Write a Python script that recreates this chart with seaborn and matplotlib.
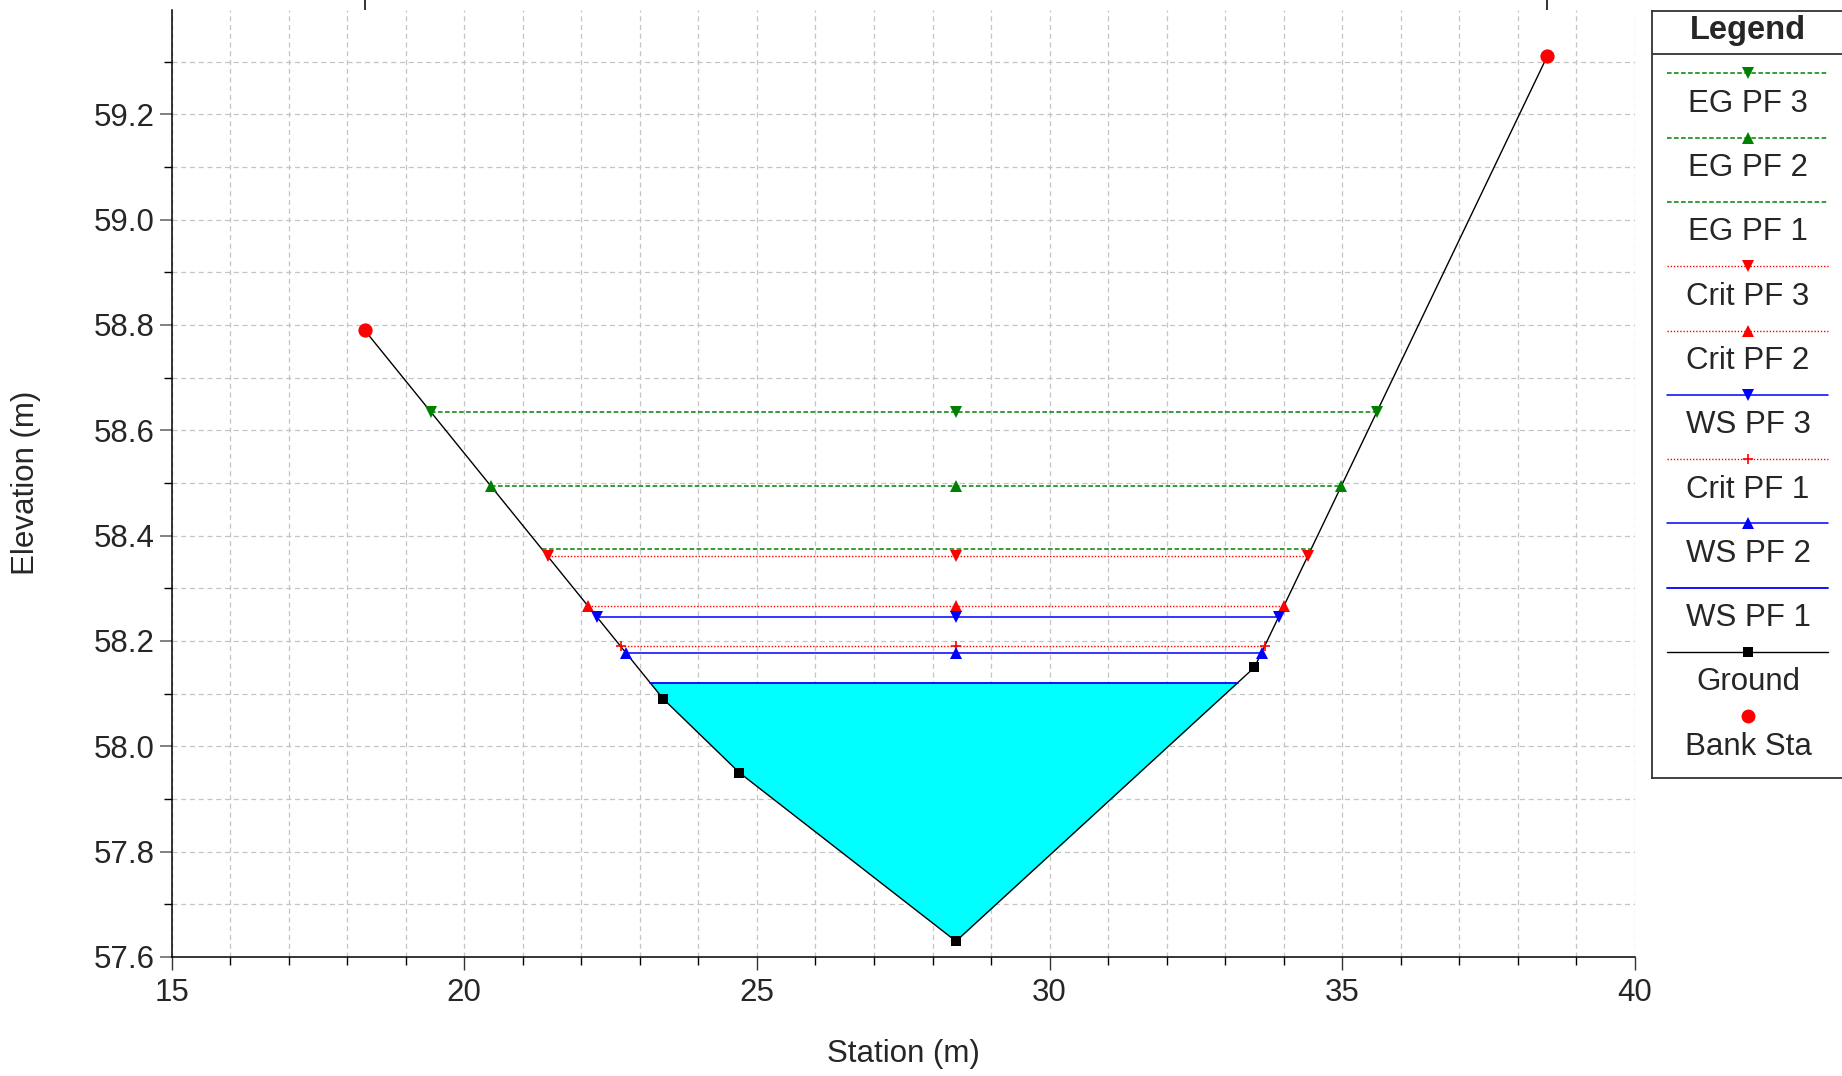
import numpy as np
import matplotlib
matplotlib.use("Agg")
import matplotlib.pyplot as plt
import matplotlib.transforms as mtransforms
from matplotlib.ticker import MultipleLocator, FormatStrFormatter
import seaborn as sns

# ---------------- data ----------------
ground_sta = [18.3, 23.4, 24.7, 28.4, 33.5, 38.5]
ground_elev = [58.79, 58.09, 57.95, 57.63, 58.15, 59.31]
bank_sta = [18.3, 38.5]
bank_elev = [58.79, 59.31]
mid_sta = 28.4

series_labels = ["EG PF 3", "EG PF 2", "EG PF 1", "Crit PF 3", "Crit PF 2",
                 "WS PF 3", "Crit PF 1", "WS PF 2", "WS PF 1"]
series_levels = [58.635, 58.494, 58.374, 58.361, 58.266,
                 58.246, 58.190, 58.178, 58.121]

# ---------------- styles ----------------
GREEN, RED, BLUE = "#008000", "#ff0000", "#0000ff"
eg_ls = (0, (3, 1.6))
crit_ls = (0, (1, 1.3))
TRI = 9
styles = {
    "EG PF 3": dict(color=GREEN, ls=eg_ls, lw=1.1, marker="v", ms=TRI),
    "EG PF 2": dict(color=GREEN, ls=eg_ls, lw=1.1, marker="^", ms=TRI),
    "EG PF 1": dict(color=GREEN, ls=eg_ls, lw=1.1, marker=None, ms=0),
    "Crit PF 3": dict(color=RED, ls=crit_ls, lw=1.0, marker="v", ms=TRI),
    "Crit PF 2": dict(color=RED, ls=crit_ls, lw=1.0, marker="^", ms=TRI),
    "WS PF 3": dict(color=BLUE, ls="-", lw=1.1, marker="v", ms=TRI),
    "Crit PF 1": dict(color=RED, ls=crit_ls, lw=1.0, marker="+", ms=7),
    "WS PF 2": dict(color=BLUE, ls="-", lw=1.1, marker="^", ms=TRI),
    "WS PF 1": dict(color=BLUE, ls="-", lw=1.3, marker=None, ms=0),
}

sns.set_style("white")
plt.rcParams["font.family"] = ["Liberation Sans", "DejaVu Sans"]
plt.rcParams["font.size"] = 22

FS = 22.5
W, H = 1842, 1076
fig = plt.figure(figsize=(W / 100, H / 100), dpi=100)
ax_l, ax_r, ax_t, ax_b = 171.5, 1635.0, 10.0, 957.0
ax = fig.add_axes([ax_l / W, 1 - ax_b / H, (ax_r - ax_l) / W, (ax_b - ax_t) / H])

gx = np.array(ground_sta)
gy = np.array(ground_elev)


def wet_limits(level):
    xs = []
    for i in range(len(gx) - 1):
        a, b = gy[i] - level, gy[i + 1] - level
        if a * b <= 0 and a != b:
            xs.append(gx[i] + (gx[i + 1] - gx[i]) * a / (a - b))
    return xs[0], xs[-1]


# water fill (WS PF 1)
ws1 = series_levels[series_labels.index("WS PF 1")]
ax.fill_between(gx, gy, ws1, where=gy <= ws1, interpolate=True,
                color="#00ffff", lw=0, zorder=2)

# ground line
sns.lineplot(x=gx, y=gy, ax=ax, color="black", lw=1.0, sort=False,
             estimator=None, zorder=3)
sns.scatterplot(x=gx[1:-1], y=gy[1:-1], ax=ax, marker="s", s=42,
                color="black", linewidth=0, zorder=6)

# water surface / crit / EG lines
for lab, lev in zip(series_labels, series_levels):
    st = styles[lab]
    left, right = wet_limits(lev)
    kw = dict(color=st["color"], linestyle=st["ls"], lw=st["lw"], zorder=4)
    if st["marker"]:
        kw.update(marker=st["marker"], markersize=st["ms"],
                  markeredgewidth=1.2 if st["marker"] == "+" else 0,
                  markerfacecolor=st["color"], markeredgecolor=st["color"])
    sns.lineplot(x=[left, mid_sta, right], y=[lev] * 3, ax=ax, sort=False,
                 estimator=None, **kw)

# bank stations
sns.scatterplot(x=bank_sta, y=bank_elev, ax=ax, marker="o", s=105,
                color="#ff0000", linewidth=0, zorder=7)
trans = mtransforms.blended_transform_factory(ax.transData, ax.transAxes)
ax.vlines(bank_sta, 1.0, 1.0 + 11 / (ax_b - ax_t), transform=trans,
          color="#222222", lw=1.3, clip_on=False)

# axes
ax.set_xlim(15, 40)
ax.set_ylim(57.6, 59.398)
ax.xaxis.set_major_locator(MultipleLocator(5))
ax.xaxis.set_minor_locator(MultipleLocator(1))
ax.yaxis.set_major_locator(MultipleLocator(0.2))
ax.yaxis.set_minor_locator(MultipleLocator(0.1))
ax.yaxis.set_major_formatter(FormatStrFormatter("%.1f"))
ax.grid(True, which="both", color="#c4c4c4", linestyle=(0, (4, 3)), lw=0.9)
ax.set_axisbelow(True)
for s in ["top", "right"]:
    ax.spines[s].set_visible(False)
for s in ["left", "bottom"]:
    ax.spines[s].set_color("black")
    ax.spines[s].set_linewidth(1.1)
ax.tick_params(axis="x", which="major", length=9, width=1.0, color="#333333",
               pad=6, labelsize=FS, direction="out", bottom=True)
ax.tick_params(axis="y", which="major", length=9, width=1.3, color="#777777",
               pad=3, labelsize=FS, direction="out", left=True)
ax.tick_params(which="minor", length=6, width=1.0, color="black",
               direction="out", bottom=True, left=True)

ax.set_xlabel("Station (m)", fontsize=FS)
ax.set_ylabel("Elevation (m)", fontsize=FS)
ax.xaxis.set_label_coords(0.5, -(1054 - ax_b) / (ax_b - ax_t))
ax.xaxis.label.set_va("center")
ax.yaxis.set_label_coords(-(ax_l - 26) / (ax_r - ax_l), (ax_b - 483) / (ax_b - ax_t))
ax.yaxis.label.set_va("center")

# ---------------- legend panel ----------------
L0, L1, T0, B0 = 1652.0, 1900.0, 10.7, 778.0
lax = fig.add_axes([L0 / W, 1 - B0 / H, (L1 - L0) / W, (B0 - T0) / H])
lax.set_xlim(L0, L1)
lax.set_ylim(B0, T0)
lax.set_xticks([])
lax.set_yticks([])
lax.set_facecolor("white")
for s in lax.spines.values():
    s.set_color("#333333")
    s.set_linewidth(1.3)
lax.axhline(54, color="#333333", lw=1.3)
cx = 1748
lax.text(cx, 39, "Legend", ha="center", va="baseline", fontsize=23.5,
         fontweight="bold")
legend_entries = series_labels[:] + ["Ground", "Bank Sta"]
for i, lab in enumerate(legend_entries):
    yl = 73.3 + 64.3 * i
    if lab in styles:
        st = styles[lab]
        lax.plot([1667, 1828], [yl, yl], color=st["color"], linestyle=st["ls"],
                 lw=st["lw"])
        if st["marker"]:
            lax.plot([cx], [yl], marker=st["marker"], markersize=st["ms"],
                     color=st["color"],
                     markeredgewidth=1.2 if st["marker"] == "+" else 0)
    elif lab == "Ground":
        lax.plot([1667, 1828], [yl, yl], color="black", lw=1.0)
        lax.plot([cx], [yl], marker="s", markersize=6.5, color="black", mew=0)
    else:
        lax.plot([cx], [yl], marker="o", markersize=10, color="#ff0000", mew=0)
    lax.text(cx, yl + 38.4, lab, ha="center", va="baseline", fontsize=FS)

fig.savefig("out.png", dpi=100)
